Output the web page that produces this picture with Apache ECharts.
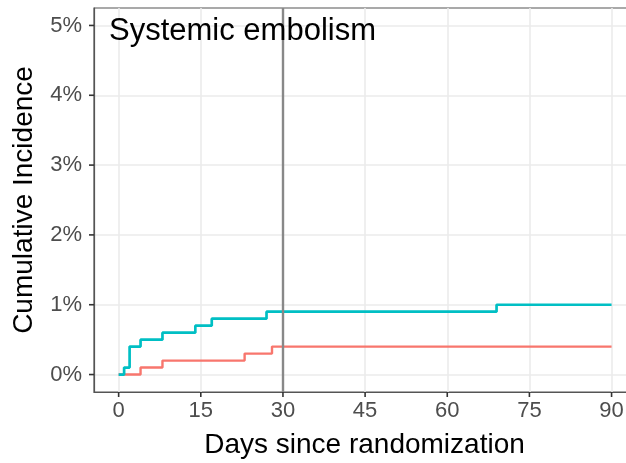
<!DOCTYPE html>
<html lang="en">
<head>
    <meta charset="UTF-8">
    <title>Systemic embolism</title>
    <script src="https://cdn.jsdelivr.net/npm/echarts@6/dist/echarts.min.js"></script>
    <style>
        html, body { margin: 0; padding: 0; background: #fff; }
    </style>
</head>
<body>
    <div id="main" style="width: 626px;height:463px;"></div>
    <script type="text/javascript">
        var myChart = echarts.init(document.getElementById('main'));

        // days / cumulative incidence (%) at each step
        let xTicks = [0, 15, 30, 45, 60, 75, 90];
        let yTicks = [0, 1, 2, 3, 4, 5];
        let tealDays = [0, 1, 2, 4, 8, 14, 17, 27, 69, 90];
        let tealInc  = [0, 0.1, 0.4, 0.5, 0.6, 0.7, 0.8, 0.9, 1.0, 1.0];
        let redDays  = [0, 4, 8, 23, 28, 90];
        let redInc   = [0, 0.1, 0.2, 0.3, 0.4, 0.4];
        let landmarkDay = 30;

        let font = 'Liberation Sans, Arial, Helvetica, sans-serif';
        let pairs = (xs, ys) => xs.map((x, i) => [x, ys[i]]);
        let tickColor = '#333';

        let option = {
            backgroundColor: '#fff',
            animation: false,
            title: {
                text: 'Systemic embolism',
                left: 109,
                top: 16,
                padding: 0,
                textStyle: {fontFamily: font, fontSize: 31, fontWeight: 'normal', color: '#000'},
            },
            grid: {
                left: 94,
                top: 8,
                right: -2, // right border falls just outside the picture
                bottom: 71,
                outerBoundsMode: 'none',
                containLabel: false,
                show: true,
                borderColor: '#555',
                borderWidth: 1.2,
            },
            xAxis: {
                type: 'value',
                min: -4.5,
                max: 93,
                name: 'Days since randomization',
                nameLocation: 'middle',
                nameGap: 39,
                nameTextStyle: {fontFamily: font, fontSize: 28, color: '#000', padding: [0, 0, 0, 7]},
                axisLine: {show: true, onZero: false, lineStyle: {color: '#555', width: 1.2}},
                // invisible ticks, kept so the grid lines follow the custom values
                axisTick: {show: true, length: 0, customValues: xTicks, lineStyle: {color: 'rgba(0,0,0,0)'}},
                // visible tick mark drawn as part of the label, outside the panel
                axisLabel: {
                    customValues: xTicks,
                    margin: 0,
                    formatter: v => '{t|}\n{v|' + v + '}',
                    rich: {
                        t: {width: 1.6, height: 5, lineHeight: 5, backgroundColor: tickColor},
                        v: {fontFamily: font, fontSize: 22, lineHeight: 28, color: '#4d4d4d'},
                    },
                },
                splitLine: {show: true, lineStyle: {color: '#ebebeb', width: 1.6}},
            },
            yAxis: {
                type: 'value',
                min: -0.25,
                max: 5.25,
                name: 'Cumulative Incidence',
                nameLocation: 'middle',
                nameGap: 56,
                nameTextStyle: {fontFamily: font, fontSize: 28, color: '#000'},
                axisLine: {show: true, onZero: false, lineStyle: {color: '#555', width: 1.2}},
                axisTick: {show: true, length: 0, customValues: yTicks, lineStyle: {color: 'rgba(0,0,0,0)'}},
                axisLabel: {
                    customValues: yTicks,
                    margin: 0,
                    formatter: v => '{v|' + v + '%}{g|}{t|}',
                    rich: {
                        v: {fontFamily: font, fontSize: 22, lineHeight: 22, color: '#4d4d4d', verticalAlign: 'middle'},
                        g: {width: 7, height: 2},
                        t: {width: 5, height: 1.6, backgroundColor: tickColor, verticalAlign: 'middle'},
                    },
                },
                splitLine: {show: true, lineStyle: {color: '#ebebeb', width: 1.6}},
            },
            series: [
                {
                    name: 'red',
                    type: 'line',
                    step: 'end',
                    symbol: 'none',
                    lineStyle: {color: '#f8766d', width: 2.4},
                    data: pairs(redDays, redInc),
                    z: 3,
                },
                {
                    name: 'teal',
                    type: 'line',
                    step: 'end',
                    symbol: 'none',
                    lineStyle: {color: '#00bfc4', width: 2.7},
                    data: pairs(tealDays, tealInc),
                    z: 4,
                    markLine: {
                        silent: true,
                        symbol: 'none',
                        label: {show: false},
                        lineStyle: {color: '#888', width: 2.4, type: 'solid'},
                        data: [{xAxis: landmarkDay}],
                    },
                },
            ],
        };

        myChart.setOption(option);
    </script>
</body>
</html>
